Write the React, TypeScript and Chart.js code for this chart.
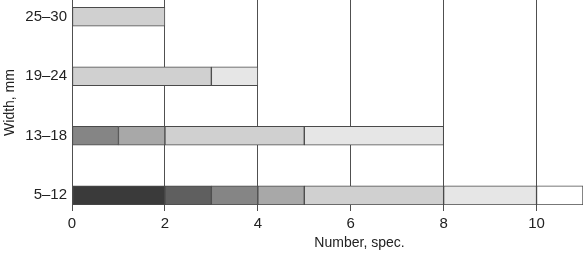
import React, { useEffect, useRef } from 'react';
import { Chart, registerables } from 'chart.js';

Chart.register(...registerables);

// Categories from bottom (index 0) to top
const categories = ['5–12', '13–18', '19–24', '25–30'];

// Stacked segments, left to right
const seg1 = [2, 0, 0, 0];
const seg2 = [1, 0, 0, 0];
const seg3 = [1, 1, 0, 0];
const seg4 = [1, 1, 0, 0];
const seg5 = [3, 3, 3, 2];
const seg6 = [2, 3, 1, 0];
const seg7 = [1, 0, 0, 0];

const xTicks = [0, 2, 4, 6, 8, 10];

const segments = [seg1, seg2, seg3, seg4, seg5, seg6, seg7];
const fills = ['#3a3a3a', '#5f5f5f', '#858585', '#a8a8a8', '#d0d0d0', '#e6e6e6', '#ffffff'];

const FONT = 'Liberation Sans, Arial, sans-serif';
const TEXT = '#222222';

export default function App() {
  const ref = useRef<HTMLCanvasElement | null>(null);

  useEffect(() => {
    if (!ref.current) return;
    const datasets = segments.map((arr, k) => ({
      label: 'S' + (k + 1),
      data: arr
        .map((v, i) => ({ x: v, y: i }))
        .filter((p) => p.x > 0),
      backgroundColor: fills[k],
      borderColor: '#4a4a4a',
      borderWidth: 1,
      borderSkipped: false as const,
      barThickness: 19,
    }));

    const xTitlePlugin = {
      id: 'xTitle',
      afterDraw(chart: any) {
        const { ctx, chartArea } = chart;
        ctx.save();
        ctx.font = `14px ${FONT}`;
        ctx.fillStyle = TEXT;
        ctx.textAlign = 'center';
        ctx.textBaseline = 'middle';
        ctx.fillText('Number, spec.', (chartArea.left + chartArea.right) / 2 + 32, 243);
        ctx.restore();
      },
    };

    const chart = new Chart(ref.current, {
      type: 'bar',
      data: { datasets },
      plugins: [xTitlePlugin],
      options: {
        indexAxis: 'y',
        animation: false,
        responsive: false,
        maintainAspectRatio: false,
        layout: { padding: 0 },
        plugins: { legend: { display: false }, tooltip: { enabled: false } },
        scales: {
          x: {
            type: 'linear',
            stacked: true,
            min: 0,
            max: 11,
            offset: false,
            afterBuildTicks: (scale: any) => {
              scale.ticks = xTicks.map((v) => ({ value: v }));
            },
            afterFit: (scale: any) => {
              scale.height = 51;
              scale.paddingLeft = 0;
              scale.paddingRight = 0;
            },
            grid: {
              display: true,
              color: '#505050',
              lineWidth: 1,
              tickLength: 6,
              drawOnChartArea: true,
              drawTicks: true,
              offset: false,
            },
            border: { display: false },
            ticks: {
              color: TEXT,
              font: { family: FONT, size: 15 },
              padding: 4,
              maxRotation: 0,
            },
          },
          y: {
            type: 'linear',
            stacked: true,
            min: -0.163,
            max: 3.281,
            offset: false,
            afterBuildTicks: (scale: any) => {
              scale.ticks = categories.map((_, i) => ({ value: i }));
            },
            afterFit: (scale: any) => {
              scale.width = 72;
              scale.paddingTop = 0;
              scale.paddingBottom = 0;
            },
            grid: { display: false, drawTicks: false, tickLength: 0, offset: false },
            border: { display: false },
            ticks: {
              color: TEXT,
              font: { family: FONT, size: 15 },
              padding: 5,
              callback: (v: any) => categories[Math.round(Number(v))] ?? '',
            },
            title: {
              display: true,
              text: 'Width, mm',
              color: TEXT,
              font: { family: FONT, size: 14 },
              padding: { top: 2, bottom: 2 },
            },
          },
        },
      },
    });
    return () => chart.destroy();
  }, []);

  return (
    <div style={{ position: 'fixed', left: 0, top: 0, width: 583, height: 256, background: '#fff' }}>
      <canvas ref={ref} width={583} height={256} style={{ width: 583, height: 256 }} />
    </div>
  );
}
